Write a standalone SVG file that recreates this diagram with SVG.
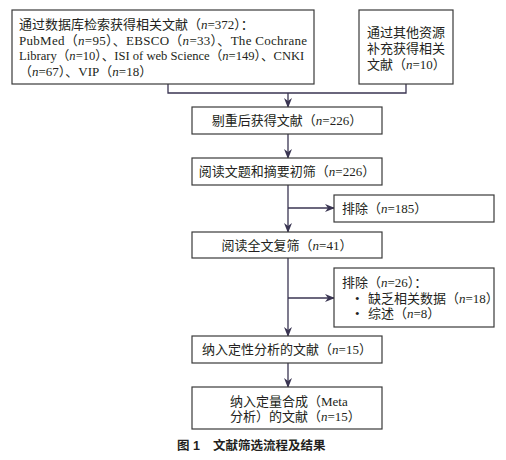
<svg xmlns="http://www.w3.org/2000/svg" width="506" height="460" viewBox="0 0 506 460">
<defs>
<style>
.box{fill:#fff;stroke:#3a3a3a;stroke-width:1.2}
.t{font-family:"Liberation Serif","Noto Sans CJK SC",serif;font-size:13px;fill:#231f20}
.c{text-anchor:middle}
.i{font-style:italic}
.cap{font-family:"Liberation Sans","Noto Sans CJK SC",sans-serif;font-size:12.5px;font-weight:bold;fill:#231f20}
.ln{fill:none;stroke:#3a3552;stroke-width:1.3}
</style>
<marker id="ah" markerWidth="10" markerHeight="8" refX="9" refY="4" orient="auto" markerUnits="userSpaceOnUse">
<path d="M0,0 L10,4 L0,8 L3,4 z" fill="#3a3552"/>
</marker>
</defs>
<rect width="506" height="460" fill="#fff"/>
<g id="connectors">
<path class="ln" d="M168,84 V93 H406 V84"/>
<path class="ln" d="M288,93 V107" marker-end="url(#ah)"/>
<path class="ln" d="M288,134 V158" marker-end="url(#ah)"/>
<path class="ln" d="M288,185 V232" marker-end="url(#ah)"/>
<path class="ln" d="M288,208 H334" marker-end="url(#ah)"/>
<path class="ln" d="M288,258 V336" marker-end="url(#ah)"/>
<path class="ln" d="M288,298 H334" marker-end="url(#ah)"/>
<path class="ln" d="M288,363 V387" marker-end="url(#ah)"/>
</g>
<g id="n1">
<rect class="box" x="12" y="10" width="302" height="74"/>
<text class="t" x="19" y="29">通过数据库检索获得相关文献（<tspan class="i">n</tspan>=372）：</text>
<text class="t" x="19" y="44.5" textLength="288" lengthAdjust="spacing">PubMed（<tspan class="i">n</tspan>=95）、EBSCO（<tspan class="i">n</tspan>=33）、The Cochrane</text>
<text class="t" x="19" y="60" style="font-size:12.6px">Library（<tspan class="i">n</tspan>=10）、ISI of web Science（<tspan class="i">n</tspan>=149）、CNKI</text>
<text class="t" x="19" y="75.5">（<tspan class="i">n</tspan>=67）、VIP（<tspan class="i">n</tspan>=18）</text>
</g>
<g id="n2">
<rect class="box" x="359" y="10" width="94" height="74"/>
<text class="t" x="367" y="36.5">通过其他资源</text>
<text class="t" x="367" y="52.5">补充获得相关</text>
<text class="t" x="367" y="68.5">文献（<tspan class="i">n</tspan>=10）</text>
</g>
<g id="n3">
<rect class="box" x="192" y="107" width="190" height="27"/>
<text class="t c" x="287" y="125">剔重后获得文献（<tspan class="i">n</tspan>=226）</text>
</g>
<g id="n4">
<rect class="box" x="192" y="158" width="190" height="27"/>
<text class="t c" x="287" y="176">阅读文题和摘要初筛（<tspan class="i">n</tspan>=226）</text>
</g>
<g id="n5">
<rect class="box" x="334" y="195" width="160" height="27"/>
<text class="t" x="342" y="213">排除（<tspan class="i">n</tspan>=185）</text>
</g>
<g id="n6">
<rect class="box" x="192" y="232" width="190" height="26"/>
<text class="t c" x="287" y="249.5">阅读全文复筛（<tspan class="i">n</tspan>=41）</text>
</g>
<g id="n7">
<rect class="box" x="334" y="268" width="160" height="59"/>
<text class="t" x="342" y="286.5">排除（<tspan class="i">n</tspan>=26）：</text>
<text class="t" x="355" y="302.5">•</text>
<text class="t" x="368" y="302.5">缺乏相关数据（<tspan class="i">n</tspan>=18）</text>
<text class="t" x="355" y="317.5">•</text>
<text class="t" x="368" y="317.5">综述（<tspan class="i">n</tspan>=8）</text>
</g>
<g id="n8">
<rect class="box" x="192" y="336" width="190" height="27"/>
<text class="t c" x="287" y="354">纳入定性分析的文献（<tspan class="i">n</tspan>=15）</text>
</g>
<g id="n9">
<rect class="box" x="192" y="387" width="190" height="42"/>
<text class="t" x="230" y="405.5">纳入定量合成（Meta</text>
<text class="t" x="230" y="420.5">分析）的文献（<tspan class="i">n</tspan>=15）</text>
</g>
<g id="caption">
<text class="cap" x="177" y="449.5">图 1</text>
<text class="cap" x="213" y="449.5">文献筛选流程及结果</text>
</g>
</svg>
